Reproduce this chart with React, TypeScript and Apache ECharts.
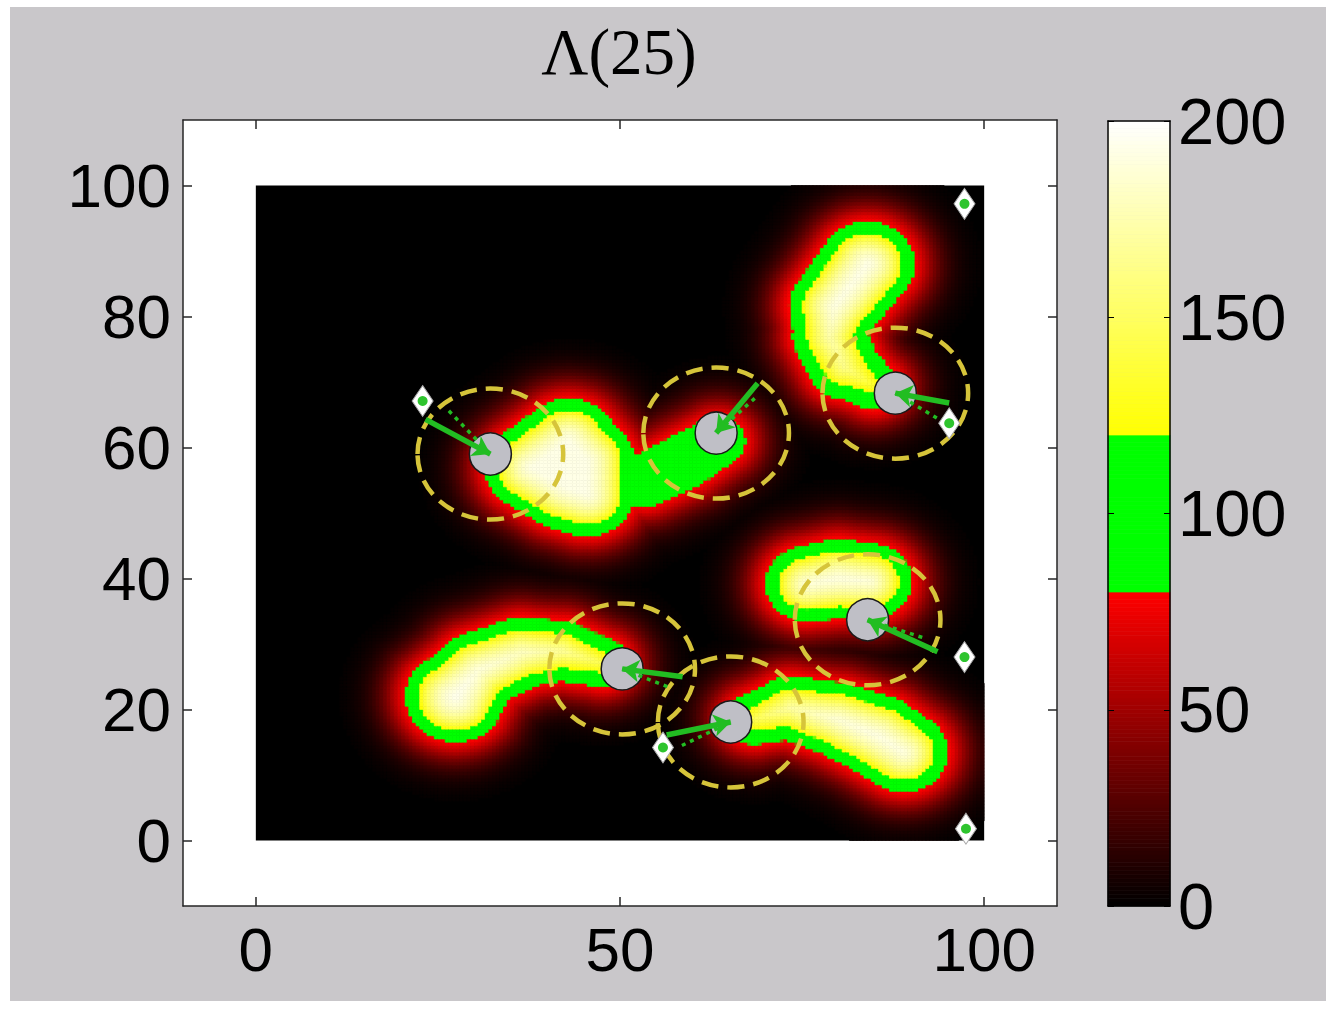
import React, { useEffect, useRef } from "react";
import * as echarts from "echarts";

// ---------------- data ----------------
const titleText = "Λ(25)";
const xTicks = [0, 50, 100];
const yTicks = [0, 20, 40, 60, 80, 100];
const cbTicks = [0, 50, 100, 150, 200];
const axisRange = [-10, 110];
const imageExtent = [0, 100];
const cbRange = [0, 200];
const cellSize = 0.5;

// colormap breakpoints (value)
const redTop = 80; // black -> red below this
const greenTop = 120; // green band
// above greenTop: yellow -> white up to cbRange[1]

// density blobs: skeleton points [x, y, edge radius (value = redTop), peak]
const tailLen = 3.4; // outer glow decay
const coreLen = 3.3; // inner rise
const blobTopRight = [
  [84, 88, 6.5, 200],
  [79.5, 81.6, 6.2, 200],
  [78.8, 77, 5.05, 190],
  [80.8, 72.4, 4.9, 180],
  [84.9, 69.4, 3.6, 160],
];
const blobUpperLeft = [
  [43, 61, 6.5, 200],
  [38, 57, 6.5, 200],
  [42.5, 54, 6.5, 200],
  [45.5, 53, 6.5, 200],
  [45.5, 58, 6.5, 200],
];
const blobNeck = [
  [53.5, 55, 3.95, 119],
  [59, 58, 4.15, 119],
  [63.5, 61, 3.75, 118],
];
const blobMidRight = [
  [75.8, 39.2, 5.75, 200],
  [80, 40, 6.05, 200],
  [84.4, 39.6, 5.75, 200],
];
const blobLowLeft = [
  [27.5, 22, 6.9, 200],
  [30.5, 26, 5.85, 200],
  [36.5, 28.7, 5.4, 195],
  [42, 29, 4.6, 190],
  [47.5, 27.2, 3.75, 175],
];
const blobLowRight = [
  [68.5, 18.6, 3.9, 175],
  [73.5, 20.3, 4.85, 190],
  [80, 18.5, 5.65, 200],
  [85.5, 16, 6.2, 200],
  [89, 13.5, 6.05, 200],
];

// agents (grey discs) and sensing radius (dashed circles)
const agentX = [32.2, 63.2, 87.8, 84.0, 50.3, 65.2];
const agentY = [59.0, 62.2, 68.3, 33.7, 26.2, 18.1];
const senseRadius = [10, 10, 10, 10, 10, 10];
// arrow tails (solid arrows point to agents)
const arrowX = [23.3, 68.9, 95.2, 93.6, 58.6, 56.4];
const arrowY = [64.3, 69.8, 66.8, 28.8, 25.0, 16.1];
// previous heading (dotted)
const prevX = [26.5, 68.5, 93.5, 91.5, 56.5, 58.5];
const prevY = [65.6, 67.5, 64.5, 31.0, 23.5, 14.5];
// targets (diamonds)
const targetX = [22.9, 97.3, 95.2, 97.3, 55.9, 97.5];
const targetY = [67.1, 97.2, 63.7, 28.0, 14.2, 1.8];

// ---------------- helpers ----------------
const blobs = [
  { pts: blobTopRight, closed: false },
  { pts: blobUpperLeft, closed: true },
  { pts: blobNeck, closed: false },
  { pts: blobMidRight, closed: false },
  { pts: blobLowLeft, closed: false },
  { pts: blobLowRight, closed: false },
];

function insidePoly(x: number, y: number, pts: number[][]) {
  let inside = false;
  for (let i = 0, j = pts.length - 1; i < pts.length; j = i++) {
    const xi = pts[i][0], yi = pts[i][1], xj = pts[j][0], yj = pts[j][1];
    if (yi > y !== yj > y && x < ((xj - xi) * (y - yi)) / (yj - yi) + xi) inside = !inside;
  }
  return inside;
}

function profile(u: number, p: number) {
  if (u >= 0) return redTop * Math.exp(-Math.pow(u / tailLen, 1.4));
  return redTop + (p - redTop) * (1 - Math.exp(-Math.pow(-u / coreLen, 1.5)));
}

function blobValue(x: number, y: number, pts: number[][], closed: boolean) {
  const n = pts.length;
  const segs = closed ? n : n - 1;
  const inside = closed && insidePoly(x, y, pts);
  let best = 0;
  for (let s = 0; s < segs; s++) {
    const a = pts[s], b = pts[(s + 1) % n];
    const dx = b[0] - a[0], dy = b[1] - a[1];
    const L2 = dx * dx + dy * dy;
    let t = L2 > 0 ? ((x - a[0]) * dx + (y - a[1]) * dy) / L2 : 0;
    t = Math.max(0, Math.min(1, t));
    let d = Math.hypot(x - (a[0] + t * dx), y - (a[1] + t * dy));
    if (inside) d = 0;
    const E = a[2] + t * (b[2] - a[2]);
    const p = a[3] + t * (b[3] - a[3]);
    const v = profile(d - E, p);
    if (v > best) best = v;
  }
  return best;
}

function field(x: number, y: number) {
  let v = 0;
  for (const b of blobs) v = Math.max(v, blobValue(x, y, b.pts, b.closed));
  return Math.min(cbRange[1], v);
}

function cmapColor(v: number) {
  if (v < redTop) return `rgb(${Math.round((255 * v) / redTop)},0,0)`;
  if (v < greenTop) return "rgb(0,255,0)";
  const t = (v - greenTop) / (cbRange[1] - greenTop);
  return `rgb(255,255,${Math.round(255 * t)})`;
}
const cmapColors = Array.from({ length: 801 }, (_, k) => cmapColor((k / 800) * cbRange[1]));

// ---------------- layout (px, relative to chart div) ----------------
const OX = 10, OY = 7;
const G = { left: 183 - OX, top: 120 - OY, width: 874, height: 786 };
const CB = { left: 1108 - OX, top: 121 - OY, width: 62, height: 785 };
const axisColor = "#262626";
const labelFont = "Liberation Sans";

export default function App() {
  const ref = useRef<HTMLDivElement>(null);
  useEffect(() => {
    if (!ref.current) return;
    const chart = echarts.init(ref.current, undefined, { renderer: "svg" });

    const half = cellSize / 2;
    const heat: number[][] = [];
    for (let x = imageExtent[0] + half; x < imageExtent[1]; x += cellSize) {
      for (let y = imageExtent[0] + half; y < imageExtent[1]; y += cellSize) {
        const v = field(x, y);
        if (v >= 1.5) heat.push([x, y, v]);
      }
    }
    const nCb = 200;
    const cbStep = (cbRange[1] - cbRange[0]) / nCb;
    const cbData = Array.from({ length: nCb }, (_, j) => [0.5, cbRange[0] + (j + 0.5) * cbStep, cbRange[0] + (j + 0.5) * cbStep]);

    const tickStyle = { color: axisColor, width: 1.5 };
    const mainLabel = { fontSize: 62, fontFamily: labelFont, color: "#000" };
    const cbLabel = { fontSize: 65, fontFamily: labelFont, color: "#000" };
    const frame = { show: true, onZero: false, lineStyle: { color: "#000", width: 1.5 } };

    const option: any = {
      animation: false,
      backgroundColor: "#c9c7ca",
      graphic: [
        {
          type: "text",
          x: 619 - OX,
          y: 52 - OY,
          style: {
            text: titleText,
            fontSize: 65,
            fontFamily: "Liberation Serif",
            fill: "#000",
            align: "center",
            verticalAlign: "middle",
            textAlign: "center",
            textVerticalAlign: "middle",
          },
        },
      ],
      grid: [
        { ...G, show: true, backgroundColor: "#ffffff", borderWidth: 0, containLabel: false },
        { ...CB, show: false, containLabel: false },
      ],
      xAxis: [
        {
          type: "value", gridIndex: 0, min: axisRange[0], max: axisRange[1], position: "bottom",
          axisLine: { show: true, onZero: false, lineStyle: tickStyle },
          axisTick: { show: true, inside: true, length: 9, customValues: xTicks, lineStyle: tickStyle },
          axisLabel: { show: true, customValues: xTicks, margin: 12, ...mainLabel },
          splitLine: { show: false }, z: 10,
        },
        {
          type: "value", gridIndex: 0, min: axisRange[0], max: axisRange[1], position: "top",
          axisLine: { show: true, onZero: false, lineStyle: tickStyle },
          axisTick: { show: true, inside: true, length: 9, customValues: xTicks, lineStyle: tickStyle },
          axisLabel: { show: false }, splitLine: { show: false }, z: 10,
        },
        {
          type: "value", gridIndex: 1, min: 0, max: 1, position: "bottom",
          axisLine: frame, axisTick: { show: false }, axisLabel: { show: false }, splitLine: { show: false }, z: 10,
        },
        {
          type: "value", gridIndex: 1, min: 0, max: 1, position: "top",
          axisLine: frame, axisTick: { show: false }, axisLabel: { show: false }, splitLine: { show: false }, z: 10,
        },
      ],
      yAxis: [
        {
          type: "value", gridIndex: 0, min: axisRange[0], max: axisRange[1], position: "left",
          axisLine: { show: true, onZero: false, lineStyle: tickStyle },
          axisTick: { show: true, inside: true, length: 9, customValues: yTicks, lineStyle: tickStyle },
          axisLabel: { show: true, customValues: yTicks, margin: 12, ...mainLabel },
          splitLine: { show: false }, z: 10,
        },
        {
          type: "value", gridIndex: 0, min: axisRange[0], max: axisRange[1], position: "right",
          axisLine: { show: true, onZero: false, lineStyle: tickStyle },
          axisTick: { show: true, inside: true, length: 9, customValues: yTicks, lineStyle: tickStyle },
          axisLabel: { show: false }, splitLine: { show: false }, z: 10,
        },
        {
          type: "value", gridIndex: 1, min: cbRange[0], max: cbRange[1], position: "right",
          axisLine: frame,
          axisTick: { show: true, inside: true, length: 6, customValues: cbTicks, lineStyle: { color: "#000" } },
          axisLabel: { show: true, margin: 8, customValues: cbTicks, ...cbLabel },
          splitLine: { show: false }, z: 10,
        },
        {
          type: "value", gridIndex: 1, min: cbRange[0], max: cbRange[1], position: "left",
          axisLine: frame,
          axisTick: { show: true, inside: true, length: 6, customValues: cbTicks, lineStyle: { color: "#000" } },
          axisLabel: { show: false }, splitLine: { show: false }, z: 10,
        },
      ],
      visualMap: {
        type: "continuous", show: false, min: cbRange[0], max: cbRange[1], dimension: 2,
        seriesIndex: [1, 8], inRange: { color: cmapColors },
      },
      series: [
        {
          type: "custom", xAxisIndex: 0, yAxisIndex: 0, z: 1, silent: true,
          data: [[imageExtent[0], imageExtent[0], imageExtent[1], imageExtent[1]]],
          encode: { x: [0, 2], y: [1, 3] },
          renderItem: (_p: any, api: any) => {
            const a = api.coord([api.value(0), api.value(3)]);
            const b = api.coord([api.value(2), api.value(1)]);
            return { type: "rect", shape: { x: a[0], y: a[1], width: b[0] - a[0], height: b[1] - a[1] }, style: { fill: "#000" } };
          },
        },
        {
          type: "custom", xAxisIndex: 0, yAxisIndex: 0, z: 2, silent: true,
          progressive: 0, progressiveThreshold: 1000000,
          data: heat, encode: { x: 0, y: 1 },
          renderItem: (_p: any, api: any) => {
            const x = api.value(0), y = api.value(1);
            const a = api.coord([x - half, y + half]);
            const b = api.coord([x + half, y - half]);
            const c = api.visual("color");
            return {
              type: "rect",
              shape: { x: a[0], y: a[1], width: b[0] - a[0], height: b[1] - a[1] },
              style: { fill: c, stroke: c, lineWidth: 0.7 },
            };
          },
        },
        {
          type: "custom", xAxisIndex: 0, yAxisIndex: 0, z: 3, silent: true,
          data: agentX.map((x, i) => [x, agentY[i], senseRadius[i]]),
          encode: { x: 0, y: 1 },
          renderItem: (_p: any, api: any) => {
            const c = api.coord([api.value(0), api.value(1)]);
            const r = api.value(2);
            const s = api.size([r, r]);
            return {
              type: "ellipse",
              shape: { cx: c[0], cy: c[1], rx: s[0], ry: s[1] },
              style: { fill: "none", stroke: "#d6c43a", lineWidth: 4.5, lineDash: [17, 9] },
            };
          },
        },
        {
          type: "scatter", xAxisIndex: 0, yAxisIndex: 0, z: 4, silent: true,
          symbol: "circle", symbolSize: 42,
          itemStyle: { color: "#bfbfc6", borderColor: "#1a1a1a", borderWidth: 1.5, opacity: 1 },
          data: agentX.map((x, i) => [x, agentY[i]]),
        },
        {
          type: "lines", coordinateSystem: "cartesian2d", xAxisIndex: 0, yAxisIndex: 0, z: 5, silent: true,
          symbol: ["none", "none"],
          lineStyle: { color: "#22bd22", width: 3.5, type: [4, 5], opacity: 1 },
          data: agentX.map((x, i) => ({ coords: [[prevX[i], prevY[i]], [x, agentY[i]]] })),
        },
        {
          type: "lines", coordinateSystem: "cartesian2d", xAxisIndex: 0, yAxisIndex: 0, z: 6, silent: true,
          symbol: ["none", "arrow"], symbolSize: 17,
          lineStyle: { color: "#22bd22", width: 5.5, opacity: 1 },
          data: agentX.map((x, i) => ({ coords: [[arrowX[i], arrowY[i]], [x, agentY[i]]] })),
        },
        {
          type: "scatter", xAxisIndex: 0, yAxisIndex: 0, z: 7, silent: true,
          symbol: "diamond", symbolSize: [21, 31],
          itemStyle: { color: "#ffffff", borderColor: "#a8a8a8", borderWidth: 1, opacity: 1 },
          data: targetX.map((x, i) => [x, targetY[i]]),
        },
        {
          type: "scatter", xAxisIndex: 0, yAxisIndex: 0, z: 8, silent: true,
          symbol: "circle", symbolSize: 10,
          itemStyle: { color: "#2ec42e", opacity: 1 },
          data: targetX.map((x, i) => [x, targetY[i]]),
        },
        {
          type: "custom", xAxisIndex: 2, yAxisIndex: 2, z: 2, silent: true,
          progressive: 0,
          data: cbData, encode: { x: 0, y: 1 },
          renderItem: (_p: any, api: any) => {
            const y = api.value(1);
            const a = api.coord([0, y + cbStep / 2]);
            const b = api.coord([1, y - cbStep / 2]);
            const c = api.visual("color");
            return {
              type: "rect",
              shape: { x: a[0], y: a[1], width: b[0] - a[0], height: b[1] - a[1] },
              style: { fill: c, stroke: c, lineWidth: 0.7 },
            };
          },
        },
      ],
    };
    chart.setOption(option);
    return () => chart.dispose();
  }, []);

  return (
    <div style={{ position: "fixed", left: 0, top: 0, width: 1336, height: 1009, background: "#ffffff" }}>
      <div ref={ref} style={{ position: "absolute", left: OX, top: OY, width: 1316, height: 994 }} />
    </div>
  );
}
